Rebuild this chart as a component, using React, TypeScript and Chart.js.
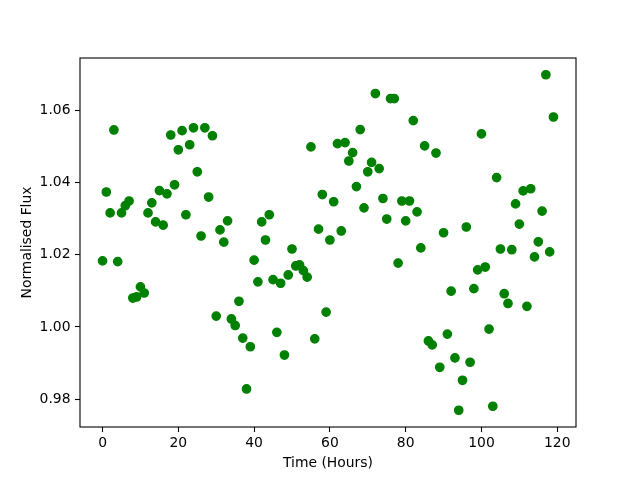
import React, { useEffect, useRef } from "react";
import { Chart, registerables } from "chart.js";

Chart.register(...registerables);

const hours: number[] = [
  0, 1, 2, 3, 4, 5, 6, 7, 8, 9, 10, 11, 12, 13, 14, 15, 16, 17, 18, 19,
  20, 21, 22, 23, 24, 25, 26, 27, 28, 29, 30, 31, 32, 33, 34, 35, 36, 37, 38, 39,
  40, 41, 42, 43, 44, 45, 46, 47, 48, 49, 50, 51, 52, 53, 54, 55, 56, 57, 58, 59,
  60, 61, 62, 63, 64, 65, 66, 67, 68, 69, 70, 71, 72, 73, 74, 75, 76, 77, 78, 79,
  80, 81, 82, 83, 84, 85, 86, 87, 88, 89, 90, 91, 92, 93, 94, 95, 96, 97, 98, 99,
  100, 101, 102, 103, 104, 105, 106, 107, 108, 109, 110, 111, 112, 113, 114, 115, 116, 117, 118, 119,
];

const flux: number[] = [
  1.0183, 1.0374, 1.0316, 1.0546, 1.0181, 1.0316, 1.0336, 1.0349, 1.008, 1.0083,
  1.0111, 1.0094, 1.0316, 1.0344, 1.0291, 1.0378, 1.0282, 1.0369, 1.0532, 1.0394,
  1.0491, 1.0544, 1.0311, 1.0505, 1.0552, 1.043, 1.0252, 1.0552, 1.036, 1.053,
  1.003, 1.0269, 1.0235, 1.0294, 1.0022, 1.0004, 1.0071, 0.9969, 0.9828, 0.9945,
  1.0185, 1.0125, 1.0291, 1.0241, 1.0311, 1.0131, 0.9985, 1.0121, 0.9922, 1.0144,
  1.0216, 1.0169, 1.0172, 1.0156, 1.0138, 1.0499, 0.9967, 1.0271, 1.0367, 1.0041,
  1.0241, 1.0347, 1.0508, 1.0266, 1.0511, 1.046, 1.0483, 1.0389, 1.0547, 1.033,
  1.043, 1.0456, 1.0647, 1.0439, 1.0356, 1.0299, 1.0633, 1.0633, 1.0177, 1.0349,
  1.0294, 1.0349, 1.0572, 1.0319, 1.0219, 1.0502, 0.9961, 0.995, 1.0482, 0.9888,
  1.0261, 0.998, 1.0099, 0.9914, 0.9769, 0.9852, 1.0277, 0.9902, 1.0106, 1.0158,
  1.0535, 1.0166, 0.9994, 0.978, 1.0414, 1.0216, 1.0092, 1.0065, 1.0214, 1.0341,
  1.0285, 1.0377, 1.0057, 1.0383, 1.0194, 1.0236, 1.0321, 1.0699, 1.0208, 1.0582,
];

const xTicks: number[] = [0, 20, 40, 60, 80, 100, 120];
const yTicks: number[] = [0.98, 1.0, 1.02, 1.04, 1.06];

const xLabel = "Time (Hours)";
const yLabel = "Normalised Flux";

const FONT = "'DejaVu Sans', sans-serif";
const FS = 13.9;

const framePlugin = {
  id: "frame",
  afterDraw(chart: any) {
    const { ctx, chartArea } = chart;
    ctx.save();
    ctx.strokeStyle = "#000";
    ctx.lineWidth = 1.1;
    ctx.strokeRect(chartArea.left, chartArea.top, chartArea.right - chartArea.left, chartArea.bottom - chartArea.top);
    ctx.restore();
  },
};

export default function App() {
  const ref = useRef<HTMLCanvasElement | null>(null);

  useEffect(() => {
    if (!ref.current) return;
    const points = hours.map((h, i) => ({ x: h, y: flux[i] }));
    const chart = new Chart(ref.current, {
      type: "scatter",
      data: {
        datasets: [
          {
            data: points,
            backgroundColor: "#008000",
            borderColor: "#008000",
            pointRadius: 4.2,
            pointBorderWidth: 1.3,
            pointHoverRadius: 4.2,
          },
        ],
      },
      options: {
        animation: false,
        responsive: false,
        events: [],
        layout: { padding: { left: 0, top: 58, right: 64, bottom: 0 } },
        plugins: {
          legend: { display: false },
          tooltip: { enabled: false },
        },
        scales: {
          x: {
            type: "linear",
            min: -5.95,
            max: 124.95,
            afterBuildTicks: (scale: any) => {
              scale.ticks = xTicks.map((v) => ({ value: v }));
            },
            afterFit: (scale: any) => {
              scale.height = 53;
            },
            border: { display: false },
            grid: {
              display: true,
              drawOnChartArea: false,
              drawTicks: true,
              tickLength: 5,
              tickColor: "#000",
              tickWidth: 1.1,
            },
            ticks: {
              color: "#000",
              padding: 3.5,
              maxRotation: 0,
              autoSkip: false,
              font: { family: FONT, size: FS },
              callback: (v: any) => String(v),
            },
            title: {
              display: true,
              text: xLabel,
              color: "#000",
              font: { family: FONT, size: FS },
              padding: { top: 0, bottom: 8.5 },
            },
          },
          y: {
            type: "linear",
            min: 0.97225,
            max: 1.07455,
            afterBuildTicks: (scale: any) => {
              scale.ticks = yTicks.map((v) => ({ value: v }));
            },
            afterFit: (scale: any) => {
              scale.width = 80;
            },
            border: { display: false },
            grid: {
              display: true,
              drawOnChartArea: false,
              drawTicks: true,
              tickLength: 5,
              tickColor: "#000",
              tickWidth: 1.1,
            },
            ticks: {
              color: "#000",
              padding: 4.5,
              autoSkip: false,
              font: { family: FONT, size: FS },
              callback: (v: any) => Number(v).toFixed(2),
            },
            title: {
              display: true,
              text: yLabel,
              color: "#000",
              font: { family: FONT, size: FS },
              padding: { top: 19, bottom: 0 },
            },
          },
        },
      },
      plugins: [framePlugin],
    });
    return () => chart.destroy();
  }, []);

  return (
    <div style={{ position: "fixed", left: 0, top: 0, width: 640, height: 480, background: "#fff" }}>
      <canvas ref={ref} width={640} height={480} style={{ display: "block", width: 640, height: 480 }} />
    </div>
  );
}
